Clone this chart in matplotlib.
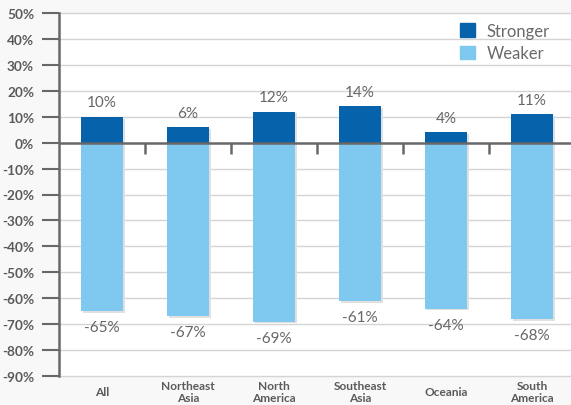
import matplotlib.pyplot as plt
from matplotlib.patches import Patch
import numpy as np

plt.rcParams['font.family'] = ['Lato', 'DejaVu Sans']

regions = ['All', 'Northeast\nAsia', 'North\nAmerica', 'Southeast\nAsia', 'Oceania', 'South\nAmerica']
stronger = [10, 6, 12, 14, 4, 11]
weaker = [-65, -67, -69, -61, -64, -68]
yticks = list(range(-90, 51, 10))

dark_blue = '#0562ab'
light_blue = '#7fc8ef'
axis_grey = '#686868'
text_grey = '#5a5a5a'

fig = plt.figure(figsize=(5.71, 4.06), dpi=100, facecolor='#f8f8f8')
ax = fig.add_axes([59 / 571, 1 - 377 / 406, 516 / 571, 363 / 406])
ax.set_facecolor('white')

x = np.arange(len(regions))
width = 0.49

# soft drop shadow behind each bar
sx, sy = 0.025, 0.7
ax.bar(x + sx, stronger, width, bottom=-sy, color='#e0e0e0', zorder=2)
ax.bar(x + sx, np.array(weaker) - sy, width, color='#e0e0e0', zorder=2)

ax.bar(x, stronger, width, color=dark_blue, zorder=3)
ax.bar(x, weaker, width, color=light_blue, zorder=3)

for xi, s, w in zip(x, stronger, weaker):
    ax.text(xi, s + 5.6, f'{s}%', ha='center', va='center', fontsize=11,
            color='#666666', zorder=4)
    ax.text(xi, w - 6.2, f'{w}%', ha='center', va='center', fontsize=11,
            color='#666666', zorder=4)

ax.set_xlim(-0.5, len(regions) - 0.5)
ax.set_ylim(-90, 50)
ax.set_yticks(yticks)
ax.set_yticklabels([f'{t}%' for t in yticks], fontsize=9.8, fontweight='bold',
                   color=text_grey)
ax.tick_params(axis='y', length=12, width=1.5, color=axis_grey, pad=6)
ax.set_xticks([])

for t in yticks:
    if t != 0:
        ax.axhline(t, color='#d4d4d4', lw=1, zorder=1, clip_on=False)
ax.axhline(0, color=axis_grey, lw=1.8, zorder=5)

# small separators hanging below the zero line
for b in x[:-1] + 0.5:
    ax.plot([b, b], [0, -4.3], color=axis_grey, lw=1.8, zorder=5,
            solid_capstyle='butt')

for side in ['top', 'right', 'bottom']:
    ax.spines[side].set_visible(False)
ax.spines['left'].set_color(axis_grey)
ax.spines['left'].set_linewidth(1.8)

for xi, name in zip(x, regions):
    ax.text(xi, -0.043, name, transform=ax.get_xaxis_transform(), ha='center',
            va='center', fontsize=8.6, fontweight='bold', color=text_grey,
            linespacing=1.1)

handles = [Patch(color=dark_blue, label='Stronger'),
           Patch(color=light_blue, label='Weaker')]
leg = ax.legend(handles=handles, loc='upper right', bbox_to_anchor=(0.98, 1.015),
                frameon=False, fontsize=12, handlelength=0.9, handleheight=0.9,
                handletextpad=0.7, labelspacing=0.4, labelcolor='#6a6a6a')

fig.savefig('out.png', dpi=100, facecolor=fig.get_facecolor())
